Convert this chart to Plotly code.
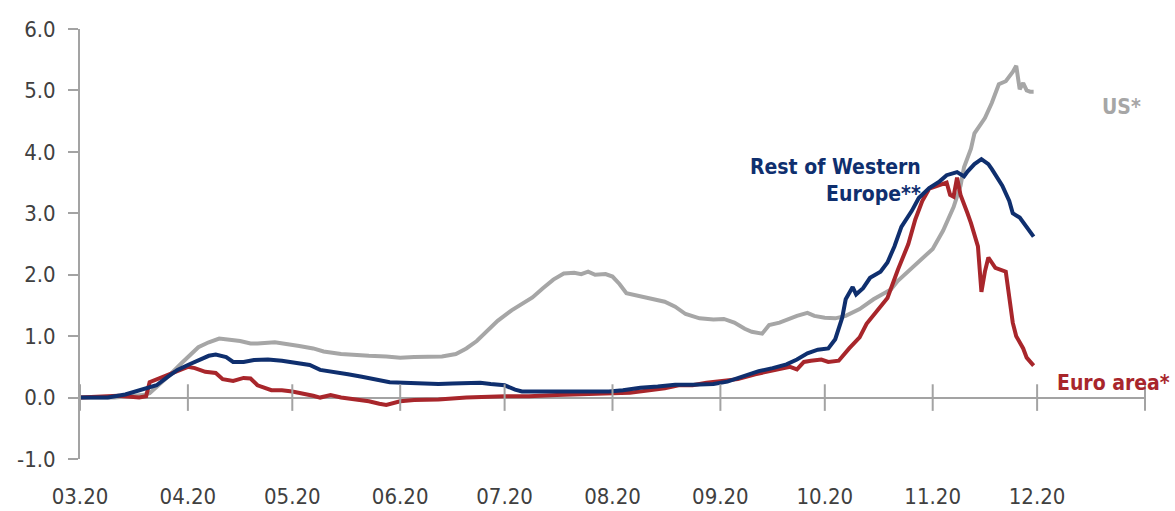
import plotly.graph_objects as go

# US* (grey)
us_dates = [
    "2020-03-01", "2020-03-11", "2020-03-15", "2020-03-19", "2020-03-21", "2020-03-24",
    "2020-03-27", "2020-03-30", "2020-04-02", "2020-04-04", "2020-04-07", "2020-04-10",
    "2020-04-13", "2020-04-16", "2020-04-19", "2020-04-21", "2020-04-26", "2020-04-30",
    "2020-05-03", "2020-05-07", "2020-05-10", "2020-05-15", "2020-05-19", "2020-05-23",
    "2020-05-28", "2020-06-01", "2020-06-05", "2020-06-09", "2020-06-13", "2020-06-17",
    "2020-06-20", "2020-06-23", "2020-06-26", "2020-06-29", "2020-07-03", "2020-07-06",
    "2020-07-09", "2020-07-12", "2020-07-15", "2020-07-18", "2020-07-21", "2020-07-23",
    "2020-07-25", "2020-07-27", "2020-07-30", "2020-08-01", "2020-08-03", "2020-08-05",
    "2020-08-09", "2020-08-13", "2020-08-16", "2020-08-19", "2020-08-22", "2020-08-26",
    "2020-08-30", "2020-09-02", "2020-09-05", "2020-09-08", "2020-09-10", "2020-09-13",
    "2020-09-15", "2020-09-18", "2020-09-20", "2020-09-23", "2020-09-26", "2020-09-28",
    "2020-10-01", "2020-10-04", "2020-10-07", "2020-10-11", "2020-10-15", "2020-10-20",
    "2020-10-22", "2020-10-25", "2020-10-28", "2020-11-01", "2020-11-04", "2020-11-07",
    "2020-11-09", "2020-11-10", "2020-11-12", "2020-11-13", "2020-11-16", "2020-11-18",
    "2020-11-20", "2020-11-22", "2020-11-24", "2020-11-25", "2020-11-26", "2020-11-27",
    "2020-11-28", "2020-11-29", "2020-11-30",
]
us_values = [
    0.00, 0.00, 0.02, 0.04, 0.07, 0.22,
    0.38, 0.55, 0.70, 0.82, 0.90, 0.96,
    0.94, 0.92, 0.88, 0.88, 0.90, 0.87,
    0.84, 0.80, 0.75, 0.71, 0.69, 0.68,
    0.67, 0.65, 0.66, 0.66, 0.67, 0.71,
    0.80, 0.92, 1.08, 1.25, 1.42, 1.52,
    1.63, 1.78, 1.92, 2.02, 2.03, 2.01,
    2.05, 2.00, 2.01, 1.97, 1.85, 1.70,
    1.65, 1.60, 1.56, 1.48, 1.36, 1.29,
    1.27, 1.28, 1.22, 1.12, 1.07, 1.04,
    1.18, 1.22, 1.27, 1.33, 1.38, 1.33,
    1.30, 1.29, 1.33, 1.44, 1.60, 1.76,
    1.90, 2.06, 2.20, 2.42, 2.72, 3.10,
    3.45, 3.75, 4.05, 4.30, 4.55, 4.80,
    5.10, 5.15, 5.30, 5.40, 5.02, 5.12,
    5.00, 4.98, 4.98,
]

# Rest of Western Europe** (navy)
rwe_dates = [
    "2020-03-01", "2020-03-09", "2020-03-14", "2020-03-17", "2020-03-20", "2020-03-23",
    "2020-03-26", "2020-03-29", "2020-04-01", "2020-04-04", "2020-04-07", "2020-04-09",
    "2020-04-12", "2020-04-14", "2020-04-17", "2020-04-20", "2020-04-24", "2020-04-28",
    "2020-05-02", "2020-05-06", "2020-05-09", "2020-05-13", "2020-05-17", "2020-05-21",
    "2020-05-25", "2020-05-29", "2020-06-02", "2020-06-06", "2020-06-12", "2020-06-16",
    "2020-06-20", "2020-06-24", "2020-06-27", "2020-07-01", "2020-07-04", "2020-07-06",
    "2020-07-12", "2020-07-19", "2020-07-25", "2020-07-31", "2020-08-04", "2020-08-09",
    "2020-08-14", "2020-08-19", "2020-08-24", "2020-08-30", "2020-09-03", "2020-09-07",
    "2020-09-12", "2020-09-16", "2020-09-20", "2020-09-23", "2020-09-26", "2020-09-29",
    "2020-10-02", "2020-10-04", "2020-10-06", "2020-10-07", "2020-10-09", "2020-10-10",
    "2020-10-12", "2020-10-14", "2020-10-17", "2020-10-19", "2020-10-21", "2020-10-23",
    "2020-10-26", "2020-10-28", "2020-10-31", "2020-11-03", "2020-11-05", "2020-11-08",
    "2020-11-10", "2020-11-11", "2020-11-13", "2020-11-15", "2020-11-17", "2020-11-18",
    "2020-11-21", "2020-11-23", "2020-11-24", "2020-11-26", "2020-11-28", "2020-11-30",
]
rwe_values = [
    0.00, 0.00, 0.05, 0.10, 0.15, 0.20,
    0.33, 0.45, 0.53, 0.60, 0.68, 0.70,
    0.66, 0.58, 0.58, 0.61, 0.62, 0.60,
    0.57, 0.53, 0.45, 0.42, 0.38, 0.34,
    0.30, 0.25, 0.24, 0.23, 0.22, 0.23,
    0.24, 0.24, 0.22, 0.20, 0.13, 0.10,
    0.10, 0.10, 0.10, 0.10, 0.12, 0.16,
    0.18, 0.21, 0.21, 0.22, 0.26, 0.33,
    0.43, 0.48, 0.54, 0.62, 0.72, 0.78,
    0.80, 0.95, 1.30, 1.60, 1.80, 1.68,
    1.78, 1.95, 2.05, 2.20, 2.46, 2.78,
    3.04, 3.25, 3.41, 3.52, 3.62, 3.67,
    3.60, 3.68, 3.80, 3.88, 3.80, 3.72,
    3.45, 3.20, 3.00, 2.93, 2.78, 2.62,
]

# Euro area* (red)
ea_dates = [
    "2020-03-01", "2020-03-07", "2020-03-12", "2020-03-18", "2020-03-20", "2020-03-21",
    "2020-03-24", "2020-03-27", "2020-03-30", "2020-04-01", "2020-04-03", "2020-04-06",
    "2020-04-09", "2020-04-11", "2020-04-14", "2020-04-17", "2020-04-19", "2020-04-21",
    "2020-04-25", "2020-04-28", "2020-05-01", "2020-05-03", "2020-05-07", "2020-05-09",
    "2020-05-12", "2020-05-15", "2020-05-19", "2020-05-23", "2020-05-26", "2020-05-28",
    "2020-06-01", "2020-06-05", "2020-06-12", "2020-06-20", "2020-07-01", "2020-07-08",
    "2020-07-16", "2020-07-25", "2020-08-01", "2020-08-06", "2020-08-12", "2020-08-16",
    "2020-08-20", "2020-08-24", "2020-08-28", "2020-09-02", "2020-09-06", "2020-09-11",
    "2020-09-15", "2020-09-19", "2020-09-21", "2020-09-23", "2020-09-25", "2020-09-27",
    "2020-09-30", "2020-10-02", "2020-10-05", "2020-10-08", "2020-10-11", "2020-10-13",
    "2020-10-16", "2020-10-19", "2020-10-22", "2020-10-25", "2020-10-27", "2020-10-29",
    "2020-10-31", "2020-11-03", "2020-11-05", "2020-11-06", "2020-11-07", "2020-11-08",
    "2020-11-09", "2020-11-11", "2020-11-12", "2020-11-14", "2020-11-15", "2020-11-16",
    "2020-11-17", "2020-11-19", "2020-11-22", "2020-11-24", "2020-11-25", "2020-11-27",
    "2020-11-28", "2020-11-30",
]
ea_values = [
    0.00, 0.02, 0.03, 0.00, 0.02, 0.25,
    0.32, 0.38, 0.45, 0.50, 0.48, 0.42,
    0.40, 0.30, 0.27, 0.32, 0.31, 0.20,
    0.12, 0.12, 0.10, 0.08, 0.03, 0.00,
    0.04, 0.00, -0.03, -0.06, -0.10, -0.12,
    -0.06, -0.04, -0.03, 0.00, 0.02, 0.02,
    0.04, 0.05, 0.07, 0.08, 0.12, 0.15,
    0.20, 0.20, 0.24, 0.27, 0.30, 0.38,
    0.43, 0.49, 0.50, 0.46, 0.58, 0.60,
    0.62, 0.58, 0.60, 0.80, 0.98, 1.20,
    1.42, 1.62, 2.08, 2.50, 2.90, 3.20,
    3.40, 3.46, 3.50, 3.30, 3.27, 3.58,
    3.30, 3.00, 2.84, 2.46, 1.72, 2.05,
    2.28, 2.11, 2.05, 1.22, 1.00, 0.80,
    0.65, 0.52,
]

month_ticks = [
    "2020-03-01", "2020-04-01", "2020-05-01", "2020-06-01", "2020-07-01", "2020-08-01",
    "2020-09-01", "2020-10-01", "2020-11-01", "2020-12-01", "2021-01-01",
]
month_labels = ["03.20", "04.20", "05.20", "06.20", "07.20", "08.20",
                "09.20", "10.20", "11.20", "12.20", ""]

y_ticks = [-1, 0, 1, 2, 3, 4, 5, 6]
y_labels = ["-1.0", "0.0", "1.0", "2.0", "3.0", "4.0", "5.0", "6.0"]

AXIS_GREY = "#A3A3A3"
TEXT_GREY = "#404040"
US_GREY = "#A6A6A6"
NAVY = "#0F2F6E"
RED = "#A8262B"
FONT = "DejaVu Sans Condensed, Roboto, sans-serif"

fig = go.Figure()

fig.add_trace(go.Scatter(x=us_dates, y=us_values, mode="lines", name="US*",
                         line=dict(color=US_GREY, width=4), hoverinfo="skip"))
fig.add_trace(go.Scatter(x=ea_dates, y=ea_values, mode="lines", name="Euro area*",
                         line=dict(color=RED, width=4), hoverinfo="skip"))
fig.add_trace(go.Scatter(x=rwe_dates, y=rwe_values, mode="lines",
                         name="Rest of Western Europe**",
                         line=dict(color=NAVY, width=4), hoverinfo="skip"))

# month tick marks crossing the zero line
fig.add_trace(go.Scatter(
    x=month_ticks, y=[0] * len(month_ticks), mode="markers",
    marker=dict(symbol="line-ns", size=19, line=dict(color=AXIS_GREY, width=2)),
    hoverinfo="skip", cliponaxis=False, showlegend=False,
))

fig.add_annotation(x=0.9775, xref="paper", y=4.73, yref="y", text="<b>US*</b>",
                   showarrow=False, xanchor="center", yanchor="middle",
                   font=dict(family=FONT, size=21, color=US_GREY))
fig.add_annotation(x=0.7915, xref="paper", y=3.53, yref="y",
                   text="<b>Rest of Western</b><br><b>Europe**</b>",
                   showarrow=False, xanchor="right", yanchor="middle", align="right",
                   font=dict(family=FONT, size=21, color=NAVY))
fig.add_annotation(x=1.0254, xref="paper", y=0.23, yref="y", text="<b>Euro area*</b>",
                   showarrow=False, xanchor="right", yanchor="middle",
                   font=dict(family=FONT, size=21, color=RED))

fig.update_layout(
    width=1175, height=511,
    margin=dict(l=80, r=30, t=29, b=52),
    plot_bgcolor="white", paper_bgcolor="white",
    showlegend=False,
    xaxis=dict(
        type="date", range=["2020-03-01", "2021-01-01"],
        tickvals=month_ticks, ticktext=month_labels,
        showline=False, showgrid=False, zeroline=False, ticks="",
        automargin=False, ticklabelstandoff=22,
        tickfont=dict(family=FONT, size=22, color=TEXT_GREY),
    ),
    yaxis=dict(
        range=[-1, 6], tickvals=y_ticks, ticktext=y_labels,
        showline=True, linecolor=AXIS_GREY, linewidth=2,
        ticks="outside", ticklen=10, tickwidth=2, tickcolor=AXIS_GREY,
        showgrid=False, automargin=False,
        zeroline=True, zerolinecolor=AXIS_GREY, zerolinewidth=2,
        ticklabelstandoff=8,
        tickfont=dict(family=FONT, size=22, color=TEXT_GREY),
    ),
)

fig.write_html("out.html")
